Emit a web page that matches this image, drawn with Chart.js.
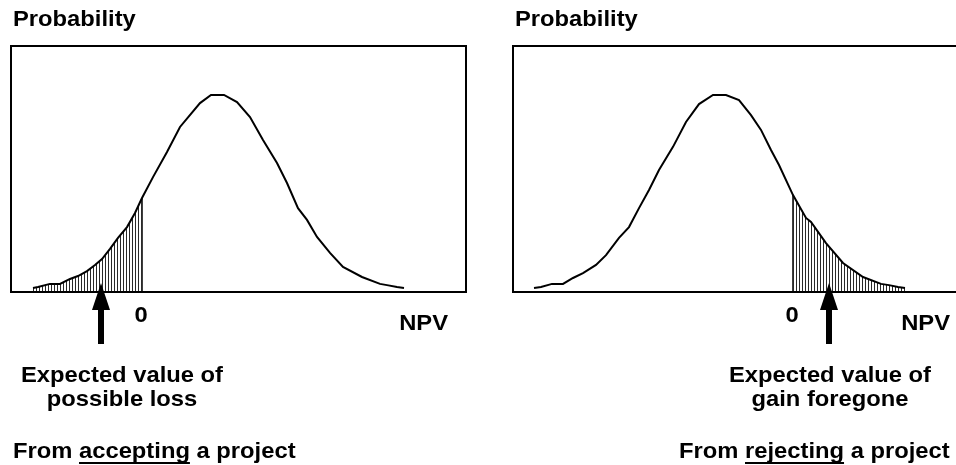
<!DOCTYPE html>
<html>
<head>
<meta charset="utf-8">
<script src="https://cdn.jsdelivr.net/npm/chart.js@4"></script>
<style>
  html, body { margin: 0; padding: 0; background: #fff; overflow: hidden; width: 956px; height: 465px; }
  canvas { position: absolute; top: 0; }
  #leftChart { left: 0; }
  #rightChart { left: 478px; }
</style>
</head>
<body>
<canvas id="leftChart" width="478" height="465"></canvas>
<canvas id="rightChart" width="490" height="465"></canvas>
<script>
// NPV (x) and probability (y)
const leftNpv = [-10.9, -10.4, -9.2, -8.2, -7.2, -6.4, -5.5, -4.7, -4.0, -3.2, -2.4, -1.5, -0.7, 0,
  1.1, 2.5, 3.8, 5.8, 6.9, 8.2, 9.5, 10.8, 12.1, 13.5, 14.5, 15.6, 16.5, 17.5, 18.8, 20.1, 22.0, 23.8, 24.5, 25.5, 26.2];
const leftProb = [1.6, 2.0, 3.3, 3.3, 5.3, 6.5, 8.5, 11.0, 13.4, 17.5, 22.0, 26.4, 32.1, 38.2,
  46.7, 56.9, 67.1, 76.8, 80.1, 80.1, 77.2, 71.1, 61.8, 52.4, 44.3, 34.1, 29.3, 22.4, 15.9, 10.2, 6.1, 3.3, 2.8, 2.0, 1.6];

const rightNpv = [-25.9, -25.2, -24.1, -23.0, -22.0, -21.0, -19.7, -18.7, -17.4, -16.4, -15.4, -14.4, -13.4, -12.0,
  -10.7, -9.4, -8.0, -6.7, -5.4, -4.2, -3.2, -2.2, -1.4, 0, 1.3, 1.8, 3.3, 5.0, 7.0, 8.8, 9.6, 10.5, 11.2];
const rightProb = [1.6, 2.0, 3.3, 3.3, 5.7, 7.7, 11.0, 15.0, 22.0, 26.4, 34.1, 41.5, 49.6, 59.0,
  69.1, 76.4, 80.1, 80.1, 78.0, 71.9, 65.9, 57.7, 51.6, 39.4, 30.1, 28.5, 19.9, 11.8, 6.1, 3.3, 2.8, 2.0, 1.6];

const leftRange = [-13.1, 32.4];
const rightRange = [-28.0, 17.5];
const probRange = [0, 100];
const expectedLoss = -4.1;
const expectedGainForegone = 3.6;

const yTitle = 'Probability';
const xTitle = 'NPV';
const zeroLabel = '0';
const leftCaption = ['Expected value of', 'possible loss'];
const rightCaption = ['Expected value of', 'gain foregone'];
const leftFooter = ['From ', 'accepting', ' a project'];
const rightFooter = ['From ', 'rejecting', ' a project'];

const FONT = 'bold 22px "Liberation Sans", Arial, sans-serif';
const STRETCH = 1.08;

function hatchPattern() {
  const c = document.createElement('canvas');
  c.width = 3; c.height = 8;
  const g = c.getContext('2d');
  g.fillStyle = '#2a2a2a';
  g.fillRect(0, 0, 1, 8);
  return g.createPattern(c, 'repeat');
}

function drawText(ctx, text, x, y, align) {
  ctx.save();
  ctx.translate(x, y);
  ctx.scale(STRETCH, 1);
  ctx.font = FONT;
  ctx.fillStyle = '#000';
  ctx.textAlign = align;
  ctx.textBaseline = 'alphabetic';
  ctx.fillText(text, 0, 0);
  ctx.restore();
}

function drawFooter(ctx, parts, x, y) {
  ctx.save();
  ctx.font = FONT;
  const w0 = ctx.measureText(parts[0]).width * STRETCH;
  const w1 = ctx.measureText(parts[1]).width * STRETCH;
  ctx.restore();
  drawText(ctx, parts.join(''), x, y, 'left');
  ctx.fillStyle = '#000';
  ctx.fillRect(x + w0, y + 4, w1, 2);
}

function makeChart(id, npv, prob, range, side, expected, caption, captionX, footer, footerX, padLeft) {
  const curve = npv.map((v, i) => ({ x: v, y: prob[i] }));
  const shade = curve.filter(p => side === 'left' ? p.x <= 0 : p.x >= 0);
  const atZero = curve.find(p => p.x === 0);

  const decorations = {
    id: 'decorations',
    afterDatasetsDraw(chart) {
      const ctx = chart.ctx;
      const a = chart.chartArea;
      const xs = chart.scales.x;
      ctx.save();
      ctx.strokeStyle = '#000';
      ctx.lineWidth = 2;
      ctx.strokeRect(a.left, a.top, a.right - a.left, a.bottom - a.top);

      // arrow pointing at the expected value
      const ax = Math.round(xs.getPixelForValue(expected));
      ctx.fillStyle = '#000';
      ctx.beginPath();
      ctx.moveTo(ax, a.bottom - 9);
      ctx.lineTo(ax + 9, a.bottom + 18);
      ctx.lineTo(ax - 9, a.bottom + 18);
      ctx.closePath();
      ctx.fill();
      ctx.fillRect(ax - 3, a.bottom + 17, 6, 35);
      ctx.restore();
    },
    afterDraw(chart) {
      const ctx = chart.ctx;
      const a = chart.chartArea;
      const xs = chart.scales.x;
      drawText(ctx, yTitle, a.left + 2, 26, 'left');
      drawText(ctx, zeroLabel, xs.getPixelForValue(0) - 1, 322, 'center');
      drawText(ctx, xTitle, a.right - 18, 330, 'right');
      drawText(ctx, caption[0], captionX, 382, 'center');
      drawText(ctx, caption[1], captionX, 406, 'center');
      drawFooter(ctx, footer, footerX, 458);
    }
  };

  return new Chart(document.getElementById(id), {
    type: 'line',
    data: {
      datasets: [
        { data: curve, borderColor: '#000', borderWidth: 2, pointRadius: 0, tension: 0, fill: false },
        { data: shade, borderWidth: 0, borderColor: 'transparent', backgroundColor: hatchPattern(), pointRadius: 0, tension: 0, fill: 'origin' },
        { data: [{ x: 0, y: 0 }, atZero], borderColor: '#000', borderWidth: 1.5, pointRadius: 0, fill: false }
      ]
    },
    options: {
      responsive: false,
      animation: false,
      events: [],
      layout: { padding: { left: padLeft, top: 46, right: id === 'leftChart' ? 12 : 0, bottom: 173 } },
      plugins: { legend: { display: false }, tooltip: { enabled: false }, title: { display: false } },
      scales: {
        x: { type: 'linear', min: range[0], max: range[1], display: false },
        y: { min: probRange[0], max: probRange[1], display: false }
      }
    },
    plugins: [decorations]
  });
}

makeChart('leftChart', leftNpv, leftProb, leftRange, 'left', expectedLoss, leftCaption, 122, leftFooter, 13, 11);
makeChart('rightChart', rightNpv, rightProb, rightRange, 'right', expectedGainForegone, rightCaption, 352, rightFooter, 201, 35);
</script>
</body>
</html>
